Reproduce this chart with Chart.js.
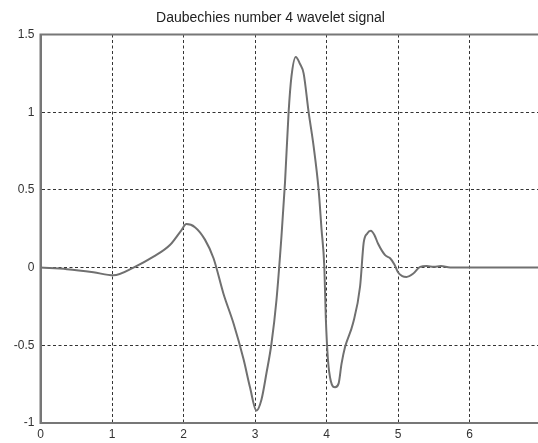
<!DOCTYPE html>
<html>
<head>
<meta charset="utf-8">
<title>Daubechies number 4 wavelet signal</title>
<script src="https://cdn.jsdelivr.net/npm/chart.js@4/dist/chart.umd.min.js"></script>
<style>
  html, body { margin: 0; padding: 0; background: #fff; overflow: hidden; }
  #wrap { position: relative; width: 582px; height: 443px; }
</style>
</head>
<body>
<div id="wrap"><canvas id="wavelet"></canvas></div>
<script>
/* --------------- Signal samples (t, psi(t)) --------------------- */
const tValues = [
    0, 0.37, 0.74, 1.02, 1.30, 1.58, 1.81, 1.97, 2.04, 2.16,
    2.30, 2.42, 2.56, 2.70, 2.84, 2.93, 3.02, 3.09, 3.16, 3.23,
    3.30, 3.37, 3.42, 3.47, 3.51, 3.57, 3.63, 3.68, 3.75, 3.82,
    3.89, 3.93, 3.97, 3.99, 4.02, 4.06, 4.12, 4.17, 4.21, 4.26,
    4.37, 4.47, 4.52, 4.57, 4.62, 4.67, 4.72, 4.82, 4.89, 4.95,
    5.00, 5.06, 5.12, 5.21, 5.31, 5.40, 5.50, 5.60, 5.73, 6, 7
];
const psiValues = [
    0, -0.01, -0.03, -0.05, 0.0, 0.07, 0.145, 0.24, 0.28, 0.26,
    0.18, 0.06, -0.17, -0.36, -0.59, -0.77, -0.92, -0.85, -0.68, -0.49,
    -0.21, 0.2, 0.55, 1.0, 1.23, 1.356, 1.31, 1.25, 1.0, 0.78,
    0.50, 0.25, 0, -0.32, -0.59, -0.73, -0.77, -0.745, -0.62, -0.51,
    -0.36, -0.12, 0.16, 0.22, 0.237, 0.21, 0.155, 0.08, 0.06, 0.02,
    -0.03, -0.055, -0.06, -0.04, 0.005, 0.01, 0.005, 0.01, 0, 0, 0
];

/* --------------- Axis ticks --------------------- */
const xTicks = [0, 1, 2, 3, 4, 5, 6, 7];
const yTicks = [-1, -0.5, 0, 0.5, 1, 1.5];

const points = tValues.map((t, i) => ({ x: t, y: psiValues[i] }));
const tickFont = { family: "'Liberation Sans', Arial, sans-serif", size: 12 };

/* --------------- Solid box round the axes --------------------- */
const axesBox = {
    id: "axesBox",
    afterDraw(chart) {
        const { ctx, chartArea: a } = chart;
        ctx.save();
        ctx.strokeStyle = "#777";
        ctx.lineWidth = 2;
        ctx.strokeRect(a.left, a.top, a.right - a.left, a.bottom - a.top);
        ctx.restore();
    }
};

const gridOpts = { color: "#333", lineWidth: 1, drawTicks: false };
const borderOpts = { display: true, color: "#777", width: 2, dash: [3, 2.5] };

new Chart(document.getElementById("wavelet"), {
    type: "line",
    plugins: [axesBox],
    data: {
        datasets: [{
            data: points,
            borderColor: "#707070",
            borderWidth: 2,
            pointRadius: 0,
            fill: false,
            cubicInterpolationMode: "monotone"
        }]
    },
    options: {
        responsive: true,
        maintainAspectRatio: false,
        animation: false,
        layout: { padding: { left: 0, right: 41, top: 0, bottom: 0 } },
        plugins: {
            legend: { display: false },
            tooltip: { enabled: false },
            title: {
                display: true,
                text: "Daubechies number 4 wavelet signal",
                color: "#222",
                font: { family: "'Liberation Sans', Arial, sans-serif", size: 14, weight: "normal" },
                padding: { top: 10, bottom: 7.7 }
            }
        },
        scales: {
            x: {
                type: "linear",
                min: 0,
                max: 7,
                afterBuildTicks: (scale) => { scale.ticks = xTicks.map(v => ({ value: v })); },
                afterFit: (scale) => { scale.height = 20; },
                ticks: { color: "#333", font: tickFont, padding: 4, maxRotation: 0, autoSkip: false,
                         callback: (v) => String(v) },
                grid: gridOpts,
                border: borderOpts
            },
            y: {
                min: -1,
                max: 1.5,
                afterBuildTicks: (scale) => { scale.ticks = yTicks.map(v => ({ value: v })); },
                afterFit: (scale) => { scale.width = 40.5; },
                ticks: { color: "#333", font: tickFont, padding: 6, autoSkip: false,
                         callback: (v) => String(v) },
                grid: gridOpts,
                border: borderOpts
            }
        }
    }
});
</script>
</body>
</html>
